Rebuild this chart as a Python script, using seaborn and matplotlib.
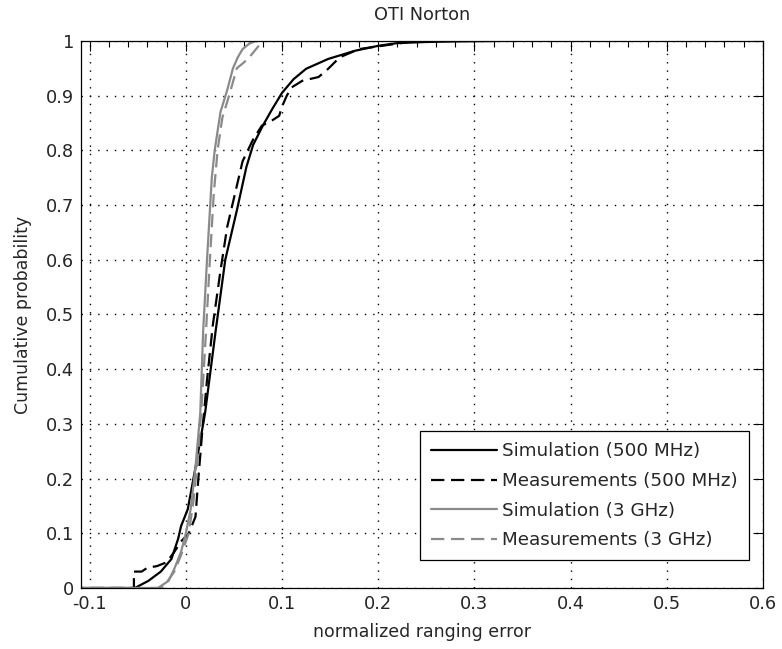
import matplotlib
matplotlib.use("Agg")
import matplotlib.pyplot as plt
from matplotlib.ticker import MultipleLocator
import pandas as pd
import seaborn as sns

# curve points (normalized ranging error, cumulative probability)
sim500_x = [-0.12, -0.053, -0.039, -0.026, -0.015, -0.008, -0.005, 0.002, 0.010, 0.020,
            0.031, 0.041, 0.053, 0.063, 0.070, 0.080, 0.090, 0.100, 0.112, 0.125,
            0.148, 0.176, 0.200, 0.220, 0.250, 0.280, 0.330, 0.380]
sim500_y = [0.0, 0.0, 0.013, 0.030, 0.053, 0.090, 0.113, 0.144, 0.220, 0.320,
            0.470, 0.600, 0.690, 0.770, 0.810, 0.845, 0.876, 0.905, 0.930, 0.949,
            0.967, 0.982, 0.991, 0.996, 0.998, 0.999, 1.0, 1.0]

meas500_x = [-0.12, -0.054, -0.054, -0.046, -0.040, -0.030, -0.020, -0.012, -0.005, 0.003,
             0.010, 0.013, 0.017, 0.022, 0.028, 0.036, 0.043, 0.051, 0.059, 0.070,
             0.079, 0.090, 0.097, 0.100, 0.105, 0.110, 0.121, 0.138, 0.148, 0.160,
             0.180, 0.220, 0.240]
meas500_y = [0.0, 0.0, 0.030, 0.030, 0.037, 0.040, 0.047, 0.066, 0.085, 0.100,
             0.130, 0.200, 0.285, 0.380, 0.480, 0.580, 0.660, 0.720, 0.780, 0.820,
             0.845, 0.855, 0.863, 0.880, 0.900, 0.915, 0.927, 0.934, 0.949, 0.970,
             0.985, 0.995, 1.0]

sim3_x = [-0.12, -0.029, -0.018, -0.012, -0.005, 0.0, 0.005, 0.010, 0.015, 0.018,
          0.022, 0.027, 0.030, 0.036, 0.043, 0.049, 0.054, 0.059, 0.066, 0.073, 0.090]
sim3_y = [0.0, 0.0, 0.013, 0.035, 0.066, 0.100, 0.144, 0.220, 0.320, 0.470,
          0.600, 0.750, 0.800, 0.870, 0.910, 0.950, 0.970, 0.985, 0.995, 1.0, 1.0]

meas3_x = [-0.12, -0.025, -0.020, -0.012, -0.005, 0.003, 0.008, 0.013, 0.017, 0.021,
           0.025, 0.029, 0.033, 0.038, 0.045, 0.053, 0.060, 0.066, 0.073, 0.080, 0.090]
meas3_y = [0.0, 0.0, 0.010, 0.030, 0.060, 0.100, 0.160, 0.250, 0.350, 0.470,
           0.600, 0.720, 0.800, 0.860, 0.900, 0.950, 0.960, 0.970, 0.985, 1.0, 1.0]

labels = ["Simulation (500 MHz)", "Measurements (500 MHz)",
          "Simulation (3 GHz)", "Measurements (3 GHz)"]
xticks = [-0.1, 0, 0.1, 0.2, 0.3, 0.4, 0.5, 0.6]
yticks = [0, 0.1, 0.2, 0.3, 0.4, 0.5, 0.6, 0.7, 0.8, 0.9, 1]

sns.set_style("white")
plt.rcParams['font.family'] = ['DejaVu Sans']
plt.rc('font', size=12.5)
plt.rc('axes', titlesize=12.8, labelsize=12.5)
plt.rc('xtick', labelsize=12.8)
plt.rc('ytick', labelsize=12.8)

fig = plt.figure(figsize=(7.82, 6.49), dpi=100)
ax = fig.add_axes([0.1036, 0.094, 0.872, 0.843])

dash = (0, (6, 3))
series = [
    (sim500_x, sim500_y, labels[0], "black", "-"),
    (meas500_x, meas500_y, labels[1], "black", dash),
    (sim3_x, sim3_y, labels[2], "#8a8a8a", "-"),
    (meas3_x, meas3_y, labels[3], "#8a8a8a", dash),
]
for xs, ys, lab, col, ls in series:
    df = pd.DataFrame({"x": xs, "y": ys})
    sns.lineplot(data=df, x="x", y="y", ax=ax, color=col, linestyle=ls,
                 linewidth=1.6, estimator=None, sort=False, label=lab)

ax.set_xticks(xticks)
ax.set_xticklabels([f"{v:g}" for v in xticks])
ax.set_yticks(yticks)
ax.set_yticklabels([f"{v:g}" for v in yticks])
ax.xaxis.set_minor_locator(MultipleLocator(0.02))
ax.set_xlim(-0.109, 0.6)
ax.set_ylim(0, 1)
ax.tick_params(which="both", direction="in", top=True, right=True, color="black")
ax.tick_params(which="major", length=7, width=0.8, pad=5)
ax.tick_params(which="minor", length=4, width=0.8)
ax.grid(True, which="major", color="black", linestyle=(0, (1, 5)), linewidth=1.0)
for s in ax.spines.values():
    s.set_color("black")
    s.set_linewidth(0.9)

ax.set_title("OTI Norton", pad=15)
ax.set_xlabel("normalized ranging error", labelpad=7)
ax.set_ylabel("Cumulative probability", labelpad=10)

leg = ax.legend(loc="lower right", bbox_to_anchor=(0.9795, 0.051), borderaxespad=0,
                fancybox=False, framealpha=1, edgecolor="black", handlelength=3.6,
                labelspacing=0.63, handletextpad=0.3, borderpad=0.6,
                prop={"family": "DejaVu Sans", "size": 13.2})
leg.get_frame().set_linewidth(0.9)

fig.savefig("out.png", dpi=100)
